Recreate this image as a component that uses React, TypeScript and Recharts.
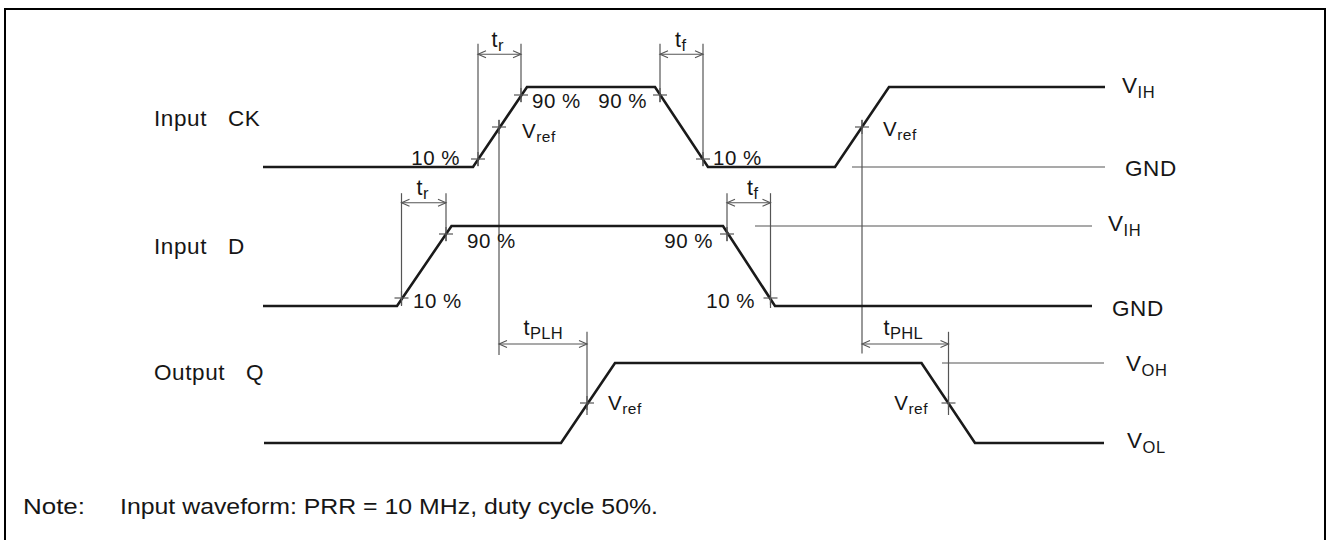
import React from 'react';
import { ComposedChart, Line, XAxis, YAxis, ReferenceLine, Scatter } from 'recharts';

// chart size and layout
const W = 1329;
const H = 540;
const PX_PER_T = 5;
const T0_PX = 263;
const X_DOMAIN = [-T0_PX / PX_PER_T, (W - T0_PX) / PX_PER_T];
const ROW_SPAN = 80;
const yDomain = (base: number) => [(base - H) / ROW_SPAN, base / ROW_SPAN];

const FONT = '"Liberation Sans", Arial, Helvetica, sans-serif';
const WAVE = '#1a1a1a';
const THIN = '#555';
const INK = '#161616';

// waveforms: time (arbitrary units) and normalized level (0 = low, 1 = high)
const ckTimes = [0, 42, 52.8, 78.4, 89, 114.4, 125.2, 168.4];
const ckLevels = [0, 0, 1, 1, 0, 0, 1, 1];
const dTimes = [0, 26.8, 37.7, 92, 102.4, 165.8];
const dLevels = [0, 0, 1, 1, 0, 0];
const qTimes = [0.2, 59.6, 70.4, 131.7, 142.4, 168.2];
const qLevels = [0, 0, 1, 1, 0, 0];

// measuring points (10 %, Vref, 90 %)
const ckMarks = [
  { t: 43.0, v: 0.1 }, { t: 47.2, v: 0.5 }, { t: 51.6, v: 0.9 },
  { t: 79.4, v: 0.9 }, { t: 88.0, v: 0.1 }, { t: 119.8, v: 0.5 },
];
const dMarks = [
  { t: 27.7, v: 0.1 }, { t: 36.6, v: 0.9 }, { t: 92.8, v: 0.9 }, { t: 101.5, v: 0.1 },
];
const qMarks = [{ t: 64.8, v: 0.5 }, { t: 137.1, v: 0.5 }];

// vertical extension lines
const ckGuides = [
  { t: 43.0, from: 0.01, to: 1.54 }, { t: 51.6, from: 0.81, to: 1.54 },
  { t: 79.4, from: 0.81, to: 1.54 }, { t: 88.0, from: 0.01, to: 1.54 },
  { t: 47.2, from: -2.35, to: 0.59 }, { t: 119.8, from: -2.33, to: 0.59 },
];
const dGuides = [
  { t: 27.7, from: 0, to: 1.41 }, { t: 36.6, from: 0.81, to: 1.41 },
  { t: 92.8, from: 0.81, to: 1.41 }, { t: 101.5, from: -0.025, to: 1.41 },
];
const qGuides = [
  { t: 64.8, from: 0.35, to: 1.39 }, { t: 137.1, from: 0.35, to: 1.39 },
];

// dimension arrows
const ckArrows = [{ from: 43.0, to: 51.6, v: 1.41 }, { from: 79.4, to: 88.0, v: 1.41 }];
const dArrows = [{ from: 27.7, to: 36.6, v: 1.29 }, { from: 92.8, to: 101.5, v: 1.29 }];
const qArrows = [{ from: 47.2, to: 64.8, v: 1.2375 }, { from: 119.8, to: 137.1, v: 1.2375 }];

// level reference lines
const ckLevelLines = [{ v: 0, from: 117.8, to: 168.4 }];
const dLevelLines = [{ v: 1, from: 98.4, to: 165.8 }];
const qLevelLines = [{ v: 1, from: 135.8, to: 168.2 }];

// labels
const ckLabels = [
  { t: -21.8, v: 0.5125, text: 'Input', kind: 'name' },
  { t: -7.0, v: 0.5125, text: 'CK', kind: 'name' },
  { t: 45.7, v: 1.504, text: 't', sub: 'r', kind: 'dim' },
  { t: 82.4, v: 1.504, text: 't', sub: 'f', kind: 'dim' },
  { t: 39.4, v: 0.025, text: '10 %', kind: 'pct', anchor: 'end' },
  { t: 53.8, v: 0.7375, text: '90 %', kind: 'pct' },
  { t: 76.8, v: 0.7375, text: '90 %', kind: 'pct', anchor: 'end' },
  { t: 90.0, v: 0.025, text: '10 %', kind: 'pct' },
  { t: 51.8, v: 0.3625, text: 'V', sub: 'ref', kind: 'pct' },
  { t: 124.0, v: 0.3875, text: 'V', sub: 'ref', kind: 'pct' },
  { t: 171.8, v: 0.925, text: 'V', sub: 'IH', kind: 'level' },
  { t: 172.4, v: -0.1125, text: 'GND', kind: 'level' },
];
const dLabels = [
  { t: -21.8, v: 0.65, text: 'Input', kind: 'name' },
  { t: -7.0, v: 0.65, text: 'D', kind: 'name' },
  { t: 30.7, v: 1.3875, text: 't', sub: 'r', kind: 'dim' },
  { t: 96.8, v: 1.3875, text: 't', sub: 'f', kind: 'dim' },
  { t: 30.0, v: -0.025, text: '10 %', kind: 'pct' },
  { t: 40.8, v: 0.725, text: '90 %', kind: 'pct' },
  { t: 90.0, v: 0.725, text: '90 %', kind: 'pct', anchor: 'end' },
  { t: 98.4, v: -0.025, text: '10 %', kind: 'pct', anchor: 'end' },
  { t: 169.0, v: 0.9375, text: 'V', sub: 'IH', kind: 'level' },
  { t: 169.8, v: -0.125, text: 'GND', kind: 'level' },
];
const qLabels = [
  { t: -21.8, v: 0.7875, text: 'Output', kind: 'name' },
  { t: -3.4, v: 0.7875, text: 'Q', kind: 'name' },
  { t: 52.1, v: 1.35, text: 't', sub: 'PLH', kind: 'dim' },
  { t: 124.1, v: 1.35, text: 't', sub: 'PHL', kind: 'dim' },
  { t: 69.0, v: 0.4125, text: 'V', sub: 'ref', kind: 'pct' },
  { t: 133.0, v: 0.4125, text: 'V', sub: 'ref', kind: 'pct', anchor: 'end' },
  { t: 172.6, v: 0.9, text: 'V', sub: 'OH', kind: 'level' },
  { t: 172.8, v: -0.0625, text: 'V', sub: 'OL', kind: 'level' },
];

const LABEL_STYLE: Record<string, { size: number; sub: number; dy: number; ls: number }> = {
  name: { size: 22.5, sub: 16, dy: 5, ls: 0.6 },
  level: { size: 22.5, sub: 16.5, dy: 5, ls: 0.6 },
  pct: { size: 20.5, sub: 15.5, dy: 4, ls: 0.5 },
  dim: { size: 21.5, sub: 16.5, dy: 4, ls: 0.4 },
};

const toPoints = (ts: number[], vs: number[]) => ts.map((t, i) => ({ t, v: vs[i] }));

const Cross = (props: any) => {
  const { cx, cy } = props;
  return (
    <g stroke={THIN} strokeWidth={1.2}>
      <line x1={cx - 7} y1={cy} x2={cx + 7} y2={cy} />
      <line x1={cx} y1={cy - 7} x2={cx} y2={cy + 7} />
    </g>
  );
};

const ArrowHead = (props: any) => {
  const { cx, cy, payload } = props;
  const d = payload.dir;
  return (
    <path
      d={`M${cx - d * 8},${cy - 3.5} L${cx},${cy} L${cx - d * 8},${cy + 3.5}`}
      fill="none"
      stroke={THIN}
      strokeWidth={1.1}
    />
  );
};

const TextLabel = (props: any) => {
  const { cx, cy, payload } = props;
  const st = LABEL_STYLE[payload.kind];
  return (
    <text
      x={cx}
      y={cy}
      textAnchor={payload.anchor || 'start'}
      fontSize={st.size}
      fontFamily={FONT}
      letterSpacing={st.ls}
      fill={INK}
    >
      {payload.text}
      {payload.sub ? (
        <tspan fontSize={st.sub} dy={st.dy}>
          {payload.sub}
        </tspan>
      ) : null}
    </text>
  );
};

const rows = [
  { id: 'ck', base: 167, wave: toPoints(ckTimes, ckLevels), marks: ckMarks, guides: ckGuides, arrows: ckArrows, levels: ckLevelLines, labels: ckLabels },
  { id: 'd', base: 306, wave: toPoints(dTimes, dLevels), marks: dMarks, guides: dGuides, arrows: dArrows, levels: dLevelLines, labels: dLabels },
  { id: 'q', base: 443, wave: toPoints(qTimes, qLevels), marks: qMarks, guides: qGuides, arrows: qArrows, levels: qLevelLines, labels: qLabels },
];

export default function App() {
  return (
    <div style={{ position: 'absolute', left: 0, top: 0, width: W, height: H, overflow: 'hidden', background: '#fff' }}>
      <div
        style={{
          position: 'absolute',
          left: 4,
          top: 8,
          width: 1318,
          height: 600,
          border: '2.5px solid #000',
        }}
      />
      <div style={{ position: 'absolute', left: 0, top: 0 }}>
        <ComposedChart width={W} height={H} margin={{ top: 0, right: 0, bottom: 0, left: 0 }}>
          <XAxis type="number" dataKey="t" domain={X_DOMAIN} allowDataOverflow hide />
          {rows.map((r) => (
            <YAxis
              key={r.id}
              yAxisId={r.id}
              type="number"
              dataKey="v"
              domain={yDomain(r.base)}
              allowDataOverflow
              hide
            />
          ))}
          {rows.flatMap((r) =>
            r.levels.map((l, i) => (
              <ReferenceLine
                key={`${r.id}-lvl-${i}`}
                yAxisId={r.id}
                segment={[{ x: l.from, y: l.v }, { x: l.to, y: l.v }]}
                stroke={THIN}
                strokeWidth={1.2}
                ifOverflow="visible"
              />
            ))
          )}
          {rows.flatMap((r) =>
            r.guides.map((g, i) => (
              <ReferenceLine
                key={`${r.id}-g-${i}`}
                yAxisId={r.id}
                segment={[{ x: g.t, y: g.from }, { x: g.t, y: g.to }]}
                stroke={THIN}
                strokeWidth={1.2}
                ifOverflow="visible"
              />
            ))
          )}
          {rows.flatMap((r) =>
            r.arrows.map((a, i) => (
              <ReferenceLine
                key={`${r.id}-a-${i}`}
                yAxisId={r.id}
                segment={[{ x: a.from, y: a.v }, { x: a.to, y: a.v }]}
                stroke={THIN}
                strokeWidth={1.1}
                ifOverflow="visible"
              />
            ))
          )}
          {rows.map((r) => (
            <Line
              key={`${r.id}-wave`}
              yAxisId={r.id}
              data={r.wave}
              dataKey="v"
              type="linear"
              stroke={WAVE}
              strokeWidth={2.6}
              dot={false}
              activeDot={false}
              isAnimationActive={false}
            />
          ))}
          {rows.map((r) => (
            <Scatter
              key={`${r.id}-marks`}
              yAxisId={r.id}
              data={r.marks}
              dataKey="v"
              shape={Cross}
              isAnimationActive={false}
            />
          ))}
          {rows.map((r) => (
            <Scatter
              key={`${r.id}-heads`}
              yAxisId={r.id}
              data={r.arrows.flatMap((a) => [
                { t: a.from, v: a.v, dir: -1 },
                { t: a.to, v: a.v, dir: 1 },
              ])}
              dataKey="v"
              shape={ArrowHead}
              isAnimationActive={false}
            />
          ))}
          {rows.map((r) => (
            <Scatter
              key={`${r.id}-labels`}
              yAxisId={r.id}
              data={r.labels}
              dataKey="v"
              shape={TextLabel}
              isAnimationActive={false}
            />
          ))}
        </ComposedChart>
      </div>
      <svg width={W} height={H} style={{ position: 'absolute', left: 0, top: 0, pointerEvents: 'none' }}>
        <text x={23} y={514} fontSize={22.5} fontFamily={FONT} fill={INK} textLength={62} lengthAdjust="spacingAndGlyphs">
          Note:
        </text>
        <text x={120} y={514} fontSize={22.5} fontFamily={FONT} fill={INK} textLength={538} lengthAdjust="spacingAndGlyphs">
          Input waveform: PRR = 10 MHz, duty cycle 50%.
        </text>
      </svg>
    </div>
  );
}
